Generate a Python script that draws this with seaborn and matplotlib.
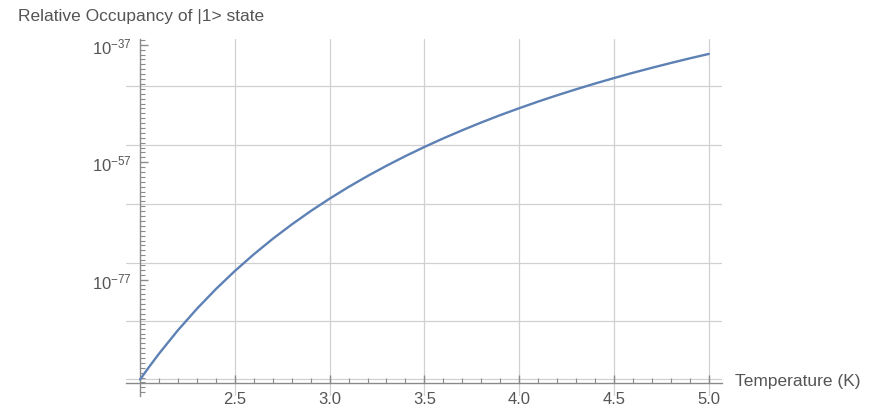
import matplotlib
matplotlib.use("Agg")
import matplotlib.pyplot as plt
import numpy as np
import pandas as pd
import seaborn as sns

# Temperature (K) and log10 of relative occupancy
temperature = [2.0, 2.05, 2.1, 2.2, 2.3, 2.4, 2.5, 2.6, 2.7, 2.8, 2.9,
               3.0, 3.1, 3.2, 3.3, 3.4, 3.5, 3.6, 3.7, 3.8, 3.9,
               4.0, 4.1, 4.2, 4.3, 4.4, 4.5, 4.6, 4.7, 4.8, 4.9, 5.0]
log_occupancy = [-94.00, -91.75, -89.60, -85.60, -81.95, -78.60, -75.52, -72.68, -70.04, -67.60, -65.32,
                 -63.20, -61.21, -59.35, -57.60, -55.95, -54.40, -52.93, -51.55, -50.23, -48.98,
                 -47.80, -46.67, -45.60, -44.58, -43.60, -42.67, -41.77, -40.92, -40.10, -39.31, -38.56]

x_ticks = [2.5, 3.0, 3.5, 4.0, 4.5, 5.0]
x_tick_labels = ["2.5", "3.0", "3.5", "4.0", "4.5", "5.0"]
y_ticks = [-37, -57, -77]
y_tick_labels = [r"$10^{-37}$", r"$10^{-57}$", r"$10^{-77}$"]
y_grid = [-44.1, -54.1, -64.1, -74.1, -84.1, -93.9]

df = pd.DataFrame({"T": temperature, "logp": log_occupancy})

sns.set_style("white")
plt.rcParams["font.family"] = ["Liberation Sans", "DejaVu Sans"]
plt.rcParams["mathtext.fontset"] = "custom"
plt.rcParams["mathtext.rm"] = "Liberation Sans"
plt.rcParams["mathtext.it"] = "Liberation Sans:italic"
plt.rcParams["mathtext.default"] = "regular"

text_col = "#555555"
axis_col = "#8a8a8a"
grid_col = "#d0d0d0"

fig = plt.figure(figsize=(8.75, 4.1), dpi=100)
ax = fig.add_axes([0.144, 0.0317, 0.681, 0.871])

# grid
for g in y_grid:
    ax.axhline(g, color=grid_col, lw=0.9, zorder=0)
for t in x_ticks:
    ax.axvline(t, color=grid_col, lw=0.9, zorder=0)

sns.lineplot(data=df, x="T", y="logp", ax=ax, color="#5e81b5", lw=1.7, zorder=3)

ax.set_xlim(1.926, 5.069)
ax.set_ylim(-96.8, -36.0)

# Mathematica-style axes crossing inside the frame
for s in ["top", "right"]:
    ax.spines[s].set_visible(False)
ax.spines["left"].set_position(("data", 2.0))
ax.spines["bottom"].set_position(("data", -94.6))
for s in ["left", "bottom"]:
    ax.spines[s].set_color(axis_col)
    ax.spines[s].set_linewidth(1.0)

ax.set_xticks(x_ticks, x_tick_labels)
ax.set_xticks(np.arange(2.1, 5.05, 0.1), minor=True)
ax.set_yticks(y_ticks, y_tick_labels)
ax.set_yticks(np.arange(-37 + 20 / 24, -97, -20 / 24), minor=True)

ax.tick_params(axis="both", which="both", direction="in", colors=axis_col,
               labelcolor=text_col, labelsize=12, bottom=True, left=True)
ax.tick_params(axis="both", which="major", length=6, width=1.0)
ax.tick_params(axis="both", which="minor", length=3.5, width=0.8)
ax.tick_params(axis="x", which="major", pad=6)
ax.tick_params(axis="y", which="major", pad=6)

ax.set_xlabel("")
ax.set_ylabel("")

fig.text(18 / 875, 1 - 17 / 410, "Relative Occupancy of |1> state",
         fontsize=12.5, color=text_col, ha="left", va="center")
fig.text(735 / 875, 1 - 382 / 410, "Temperature (K)",
         fontsize=12.5, color=text_col, ha="left", va="center")

fig.savefig("out.png", dpi=100)
